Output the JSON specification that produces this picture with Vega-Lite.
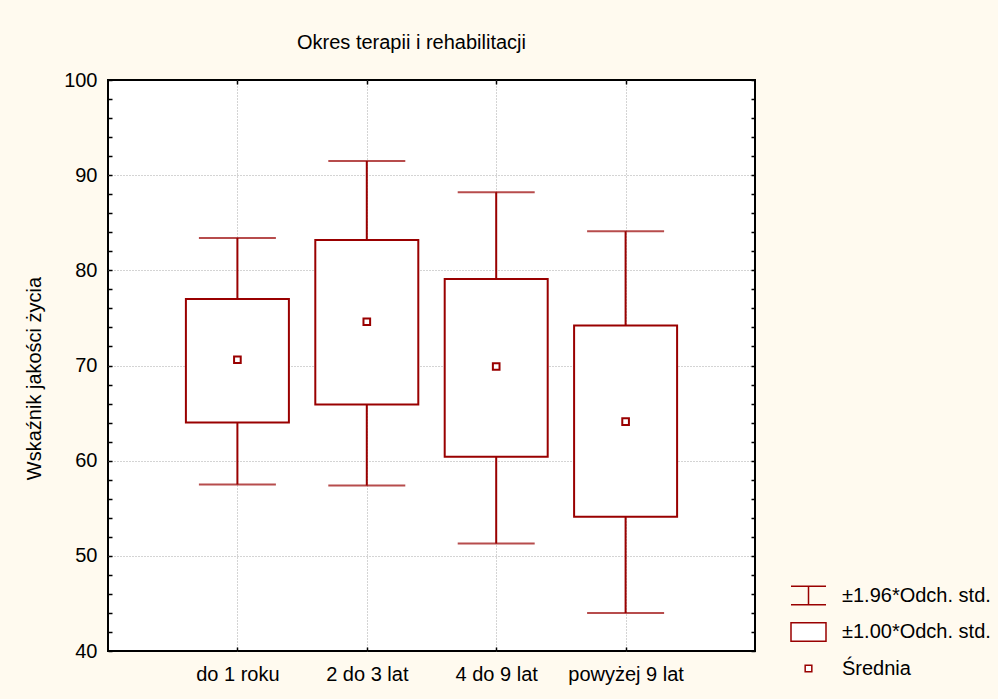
{
  "$schema": "https://vega.github.io/schema/vega-lite/v6.json",
  "autosize": {"type": "none"},
  "width": 647,
  "height": 571,
  "padding": {"left": 108, "top": 80, "right": 243, "bottom": 48},
  "background": "#FFFAEF",
  "title": {
    "text": "Okres terapii i rehabilitacji",
    "anchor": "start",
    "frame": "group",
    "orient": "top",
    "baseline": "alphabetic",
    "dx": 189,
    "offset": 1,
    "font": "Liberation Sans",
    "fontSize": 20,
    "fontWeight": "normal",
    "color": "#000000"
  },
  "config": {
    "view": {"fill": "white", "stroke": "#000000", "strokeWidth": 2},
    "font": "Liberation Sans",
    "axis": {
      "labelFont": "Liberation Sans",
      "labelFontSize": 20,
      "labelColor": "#000000",
      "titleFont": "Liberation Sans",
      "titleFontSize": 20,
      "titleFontWeight": "normal",
      "titleColor": "#000000",
      "tickColor": "#000000",
      "tickWidth": 1.5,
      "domain": false,
      "gridColor": "#a8a8a8",
      "gridDash": [1, 2],
      "gridWidth": 1,
      "zindex": 1
    }
  },
  "data": {
    "values": [
      {"okres": "do 1 roku", "srednia": 70.6, "sd1_lo": 64.0, "sd1_hi": 77.0, "sd196_lo": 57.5, "sd196_hi": 83.4, "seria": "Średnia"},
      {"okres": "2 do 3 lat", "srednia": 74.6, "sd1_lo": 65.9, "sd1_hi": 83.2, "sd196_lo": 57.4, "sd196_hi": 91.5, "seria": "Średnia"},
      {"okres": "4 do 9 lat", "srednia": 69.9, "sd1_lo": 60.4, "sd1_hi": 79.1, "sd196_lo": 51.3, "sd196_hi": 88.2, "seria": "Średnia"},
      {"okres": "powyżej 9 lat", "srednia": 64.1, "sd1_lo": 54.1, "sd1_hi": 74.2, "sd196_lo": 44.0, "sd196_hi": 84.1, "seria": "Średnia"}
    ]
  },
  "layer": [
    {
      "mark": {"type": "rule", "color": "#990000", "strokeWidth": 2},
      "encoding": {
        "x": {
          "field": "okres", "type": "nominal", "sort": null,
          "scale": {"type": "point", "padding": 1},
          "axis": {
            "orient": "bottom", "title": null, "labelAngle": 0,
            "grid": true, "gridZindex": 0, "tickSize": -4, "labelPadding": 33,
            "labelBaseline": "alphabetic"
          }
        },
        "y": {
          "field": "sd196_lo", "type": "quantitative",
          "scale": {"domain": [40, 100], "nice": false, "zero": false},
          "axis": {
            "orient": "left",
            "title": "Wskaźnik jakości życia",
            "titleAngle": -90,
            "titleAlign": "center",
            "titleBaseline": "alphabetic",
            "titleX": -68,
            "titleY": 298,
            "values": [40, 42, 44, 46, 48, 50, 52, 54, 56, 58, 60, 62, 64, 66, 68, 70, 72, 74, 76, 78, 80, 82, 84, 86, 88, 90, 92, 94, 96, 98, 100],
            "labelExpr": "datum.value % 10 === 0 ? datum.label : ''",
            "grid": true,
            "gridOpacity": {"condition": {"test": "datum.value % 10 === 0 && datum.value > 40 && datum.value < 100", "value": 1}, "value": 0},
            "tickSize": -4,
            "labelPadding": 15,
            "labelBaseline": "middle"
          }
        },
        "y2": {"field": "sd196_hi"}
      }
    },
    {
      "mark": {"type": "tick", "color": "#990000", "thickness": 2, "size": 77},
      "encoding": {
        "x": {
          "field": "okres", "type": "nominal", "sort": null,
          "axis": {"orient": "top", "title": null, "labels": false, "grid": false, "tickSize": -4}
        },
        "y": {
          "field": "sd196_lo", "type": "quantitative",
          "axis": {
            "orient": "right", "title": null, "labels": false, "grid": false, "tickSize": -4,
            "values": [40, 42, 44, 46, 48, 50, 52, 54, 56, 58, 60, 62, 64, 66, 68, 70, 72, 74, 76, 78, 80, 82, 84, 86, 88, 90, 92, 94, 96, 98, 100]
          }
        }
      }
    },
    {
      "mark": {"type": "tick", "color": "#990000", "thickness": 2, "size": 77},
      "encoding": {
        "x": {"field": "okres", "type": "nominal", "sort": null, "axis": null},
        "y": {"field": "sd196_hi", "type": "quantitative", "axis": null}
      }
    },
    {
      "mark": {"type": "bar", "fill": "white", "stroke": "#990000", "strokeWidth": 2, "width": 103},
      "encoding": {
        "x": {"field": "okres", "type": "nominal", "sort": null, "axis": null},
        "y": {"field": "sd1_lo", "type": "quantitative", "axis": null},
        "y2": {"field": "sd1_hi"}
      }
    },
    {
      "mark": {"type": "point", "filled": true, "fill": "white", "stroke": "#990000", "strokeWidth": 2, "size": 1225, "opacity": 1},
      "encoding": {
        "x": {"field": "okres", "type": "nominal", "sort": null, "axis": null},
        "y": {"field": "srednia", "type": "quantitative", "axis": null},
        "shape": {
          "field": "seria", "type": "nominal",
          "scale": {
            "domain": ["±1.96*Odch. std.", "±1.00*Odch. std.", "Średnia"],
            "range": [
              "M-1,-0.53H1M0,-0.53V0.53M-1,0.53H1",
              "M-1,-0.53H1V0.53H-1Z",
              "M-0.19,-0.19H0.19V0.19H-0.19Z"
            ]
          },
          "legend": {
            "title": null,
            "orient": "none",
            "legendX": 682,
            "legendY": 497,
            "padding": 0,
            "symbolSize": 1225,
            "labelFont": "Liberation Sans",
            "labelFontSize": 20,
            "labelColor": "#000000",
            "labelOffset": 15,
            "rowPadding": 5.5,
            "labelLimit": 300,
            "encode": {
              "symbols": {
                "update": {
                  "fill": {"value": "white"},
                  "stroke": {"value": "#990000"},
                  "strokeWidth": {"value": 2},
                  "opacity": {"value": 1}
                }
              }
            }
          }
        }
      }
    }
  ],
  "resolve": {"axis": {"x": "independent", "y": "independent"}}
}
